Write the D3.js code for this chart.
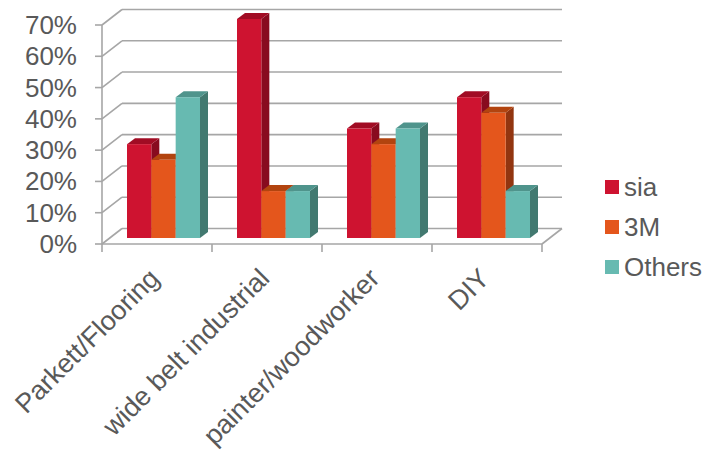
<!DOCTYPE html>
<html><head><meta charset="utf-8">
<script src="https://cdn.jsdelivr.net/npm/d3@7"></script>
<style>body{margin:0;background:#fff}svg{display:block}text{font-family:"Liberation Sans",Arial,sans-serif;fill:#595959}</style>
</head><body><svg id="c" width="708" height="453"></svg>
<script>
const categories = ["Parkett/Flooring","wide belt industrial","painter/woodworker","DIY"];
const seriesNames = ["sia","3M","Others"];
const sia = [0.30,0.70,0.35,0.45];
const m3 = [0.25,0.15,0.30,0.40];
const others = [0.45,0.15,0.35,0.15];
const yTicks = [0,0.1,0.2,0.3,0.4,0.5,0.6,0.7];
const seriesValues = [sia, m3, others];
const colors = [
  {front:"#CE1330", top:"#A10C24", side:"#880B1F"},
  {front:"#E4561C", top:"#B2440F", side:"#923510"},
  {front:"#67BAB1", top:"#4F948C", side:"#427970"}
];

const svg = d3.select("#c");
const x0 = 102, x1 = 542, floorY = 244;
const D = {dx:20, dy:-15.5};      // wall depth
const B = {dx:8, dy:-6};          // bar plane offset
const BD = {dx:8, dy:-6};         // bar depth
const y = d3.scaleLinear().domain([0,0.7]).range([floorY, 25]);
const x = d3.scaleBand().domain(categories).range([x0, x1]);
const xs = d3.scaleBand().domain(seriesNames).range([17, 17+73]);
const grid = "#A6A6A6";

const g = svg.append("g");
yTicks.forEach(t => {
  const yf = y(t);
  g.append("line").attr("x1", x0 + D.dx).attr("x2", x1 + D.dx)
    .attr("y1", yf + D.dy).attr("y2", yf + D.dy).attr("stroke", grid).attr("stroke-width", 1.6);
  g.append("line").attr("x1", x0).attr("y1", yf).attr("x2", x0 + D.dx).attr("y2", yf + D.dy)
    .attr("stroke", grid).attr("stroke-width", 1.6);
  g.append("line").attr("x1", x0 - 7).attr("x2", x0).attr("y1", yf).attr("y2", yf)
    .attr("stroke", grid).attr("stroke-width", 1.6);
});
g.append("line").attr("x1", x0).attr("x2", x0).attr("y1", y(0.7)).attr("y2", floorY)
  .attr("stroke", grid).attr("stroke-width", 1.6);
g.append("line").attr("x1", x0).attr("x2", x1).attr("y1", floorY).attr("y2", floorY)
  .attr("stroke", grid).attr("stroke-width", 1.6);
g.append("line").attr("x1", x1).attr("y1", floorY).attr("x2", x1 + D.dx).attr("y2", floorY + D.dy)
  .attr("stroke", grid).attr("stroke-width", 1.6);
const tickXs = categories.map(c => x(c)).concat([x1]);
tickXs.forEach(tx => g.append("line").attr("x1", tx).attr("x2", tx).attr("y1", floorY).attr("y2", floorY + 8)
  .attr("stroke", grid).attr("stroke-width", 1.6));

const bars = svg.append("g");
const bw = xs.bandwidth();
categories.forEach((c, ci) => {
  seriesNames.forEach((s, si) => {
    const v = seriesValues[si][ci];
    const left = x(c) + B.dx + xs(s);
    const right = left + bw;
    const bottom = floorY + B.dy;
    const top = bottom - (floorY - y(v));
    const col = colors[si];
    const pts = a => a.map(p => p.join(",")).join(" ");
    bars.append("polygon").attr("points", pts([[right,top],[right+BD.dx,top+BD.dy],[right+BD.dx,bottom+BD.dy],[right,bottom]]))
      .attr("fill", col.side);
    bars.append("polygon").attr("points", pts([[left,top],[left+BD.dx,top+BD.dy],[right+BD.dx,top+BD.dy],[right,top]]))
      .attr("fill", col.top);
    bars.append("rect").attr("x", left).attr("y", top).attr("width", bw).attr("height", bottom - top)
      .attr("fill", col.front);
  });
});

svg.append("g").selectAll("text").data(yTicks).join("text")
  .attr("x", 77).attr("y", d => y(d)).attr("text-anchor", "end").attr("dominant-baseline", "central")
  .style("font-size", "26px").text(d => d3.format(".0%")(d));

svg.append("g").selectAll("text").data(categories).join("text")
  .attr("transform", d => `translate(${x(d) + x.bandwidth()/2 + 4},${280}) rotate(-45)`)
  .attr("text-anchor", "end").style("font-size", "27px").text(d => d);

const lg = svg.append("g");
seriesNames.forEach((s, i) => {
  const ly = 187 + i * 40;
  lg.append("rect").attr("x", 605).attr("y", ly - 7).attr("width", 14).attr("height", 14).attr("fill", colors[i].front);
  lg.append("text").attr("x", 624).attr("y", ly).attr("dominant-baseline", "central")
    .style("font-size", "26px").text(s);
});
</script></body></html>
